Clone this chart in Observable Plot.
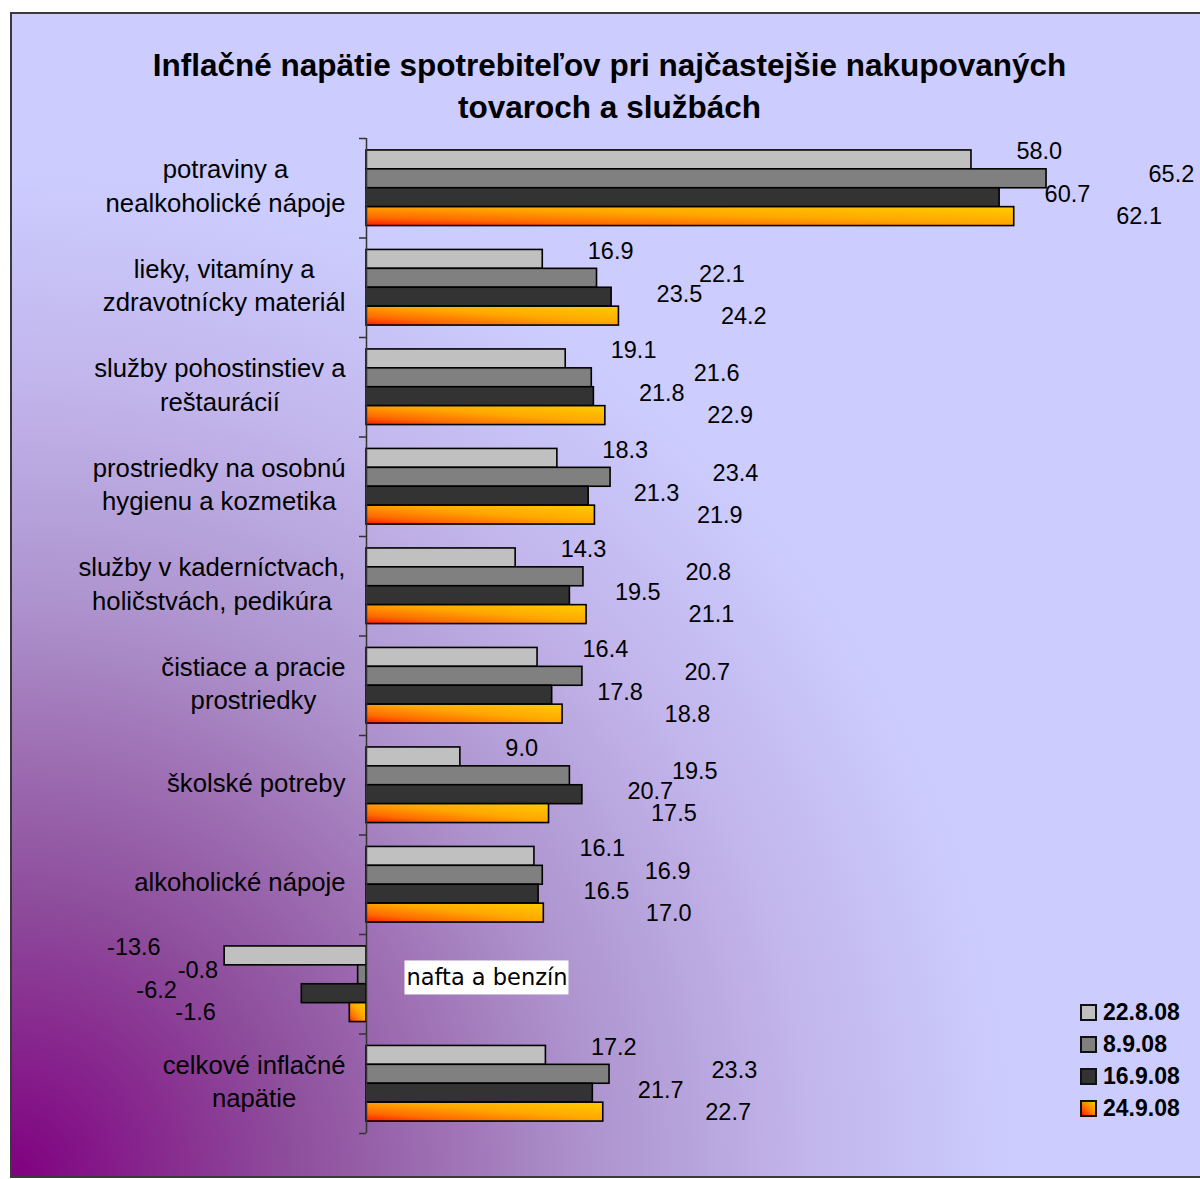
<!DOCTYPE html>
<html><head><meta charset="utf-8">
<script src="https://cdn.jsdelivr.net/npm/d3@7"></script>
<script src="https://cdn.jsdelivr.net/npm/@observablehq/plot@0.6"></script>
<style>
html,body{margin:0;padding:0;background:#fff;overflow:hidden;width:1200px;height:1179px;}
#frame{position:absolute;left:10px;top:12px;width:1200px;height:1162px;border:2px solid #3a3a3a;
  background:radial-gradient(circle 1000px at 0% 100%, #800080 0px, #8e4e9c 280px, #9e70b4 430px, #ae94ce 580px, #c2b6ec 800px, #ccccff 1000px);
  font-family:"Liberation Sans",Arial,sans-serif;}
#title{padding-top:30px;height:84px;line-height:42px;font-size:31.5px;font-weight:bold;text-align:center;width:1195px;color:#000;white-space:nowrap;}
#chart svg{display:block;}
#legend{position:absolute;left:1068px;top:982px;}
.li{display:flex;align-items:center;height:32px;font-weight:bold;font-size:23px;color:#000;}
.sw{width:13px;height:13px;border:2px solid #111;margin-right:6px;}
</style></head>
<body>
<div id="frame">
  <div id="title">Inflačné napätie spotrebiteľov pri najčastejšie nakupovaných<br>tovaroch a službách</div>
  <div id="chart"></div>
  <div id="legend"></div>
</div>
<script>
// ---- data ----
const categories = [
  "potraviny a nealkoholické nápoje",
  "lieky, vitamíny a zdravotnícky materiál",
  "služby pohostinstiev a reštaurácií",
  "prostriedky na osobnú hygienu a kozmetika",
  "služby v kaderníctvach, holičstvách, pedikúra",
  "čistiace a pracie prostriedky",
  "školské potreby",
  "alkoholické nápoje",
  "nafta a benzín",
  "celkové inflačné napätie"
];
const tickLabels = [
  "potraviny a\nnealkoholické nápoje",
  "lieky, vitamíny a\nzdravotnícky materiál",
  "služby pohostinstiev a\nreštaurácií",
  "prostriedky na osobnú\nhygienu a kozmetika",
  "služby v kaderníctvach,\nholičstvách, pedikúra",
  "čistiace a pracie\nprostriedky",
  "školské potreby",
  "alkoholické nápoje",
  "",
  "celkové inflačné\nnapätie"
];
const insideLabel = "nafta a benzín";
const seriesNames = ["22.8.08", "8.9.08", "16.9.08", "24.9.08"];
const v_22_8_08 = [58.0, 16.9, 19.1, 18.3, 14.3, 16.4, 9.0, 16.1, -13.6, 17.2];
const v_8_9_08  = [65.2, 22.1, 21.6, 23.4, 20.8, 20.7, 19.5, 16.9, -0.8, 23.3];
const v_16_9_08 = [60.7, 23.5, 21.8, 21.3, 19.5, 17.8, 20.7, 16.5, -6.2, 21.7];
const v_24_9_08 = [62.1, 24.2, 22.9, 21.9, 21.1, 18.8, 17.5, 17.0, -1.6, 22.7];
const seriesValues = [v_22_8_08, v_8_9_08, v_16_9_08, v_24_9_08];

// ---- styles ----
const fills = ["#c0c0c0", "#808080", "#333333", "url(#orangeGrad)"];
const posDx = [45, 102, 45, 102];
const negDx = [-64, -140, -125, -134];
const labDy = [-8, -4, -3, 0];

const W = 1188, H = 1048, mt = 10, mb = 43, ml = 354, mr = 4.8;
const pIn = 0.24;
const step = (H - mt - mb) / categories.length;
const bw = step * (1 - pIn), h = bw / 4;

const marks = [];
seriesValues.forEach((vals, k) => {
  const data = categories.map((c, i) => ({category: c, value: vals[i], series: seriesNames[k]}));
  marks.push(Plot.barX(data, {y: "category", x1: 0, x2: "value", fill: fills[k], stroke: "#000", strokeWidth: 1.6,
    insetTop: k * h, insetBottom: (3 - k) * h}));
  const cy = -bw / 2 + (k + 0.5) * h + labDy[k];
  marks.push(Plot.text(data.filter(d => d.value >= 0), {x: "value", y: "category", text: d => d.value.toFixed(1),
    textAnchor: "start", dx: posDx[k], dy: cy, fontSize: 23.5, fill: "#000"}));
  marks.push(Plot.text(data.filter(d => d.value < 0), {x: "value", y: "category", text: d => d.value.toFixed(1),
    textAnchor: "end", dx: negDx[k], dy: cy, fontSize: 23.5, fill: "#000"}));
});

// axis line and boundary ticks
marks.push(Plot.ruleX([0], {stroke: "#333", strokeWidth: 1.5}));
marks.push(Plot.axisY({ticks: categories, tickSize: 7, tickFormat: () => "", dy: -step / 2, stroke: "#333", strokeWidth: 1.5}));
marks.push(Plot.axisY({ticks: [categories[categories.length - 1]], tickSize: 7, tickFormat: () => "", dy: step / 2, stroke: "#333", strokeWidth: 1.5}));

// category labels (lines centred within a right-aligned block)
const LFS = 25.7;
const ctx = document.createElement("canvas").getContext("2d");
ctx.font = LFS + "px 'Liberation Sans'";
categories.forEach((c, i) => {
  const lab = tickLabels[i];
  if (!lab) return;
  const w = Math.max(...lab.split("\n").map(s => ctx.measureText(s).width));
  marks.push(Plot.text([c], {x: () => 0, y: d => d, text: () => lab, textAnchor: "middle",
    dx: -(21 + w / 2), dy: -4, fontSize: LFS, lineHeight: 1.3, fill: "#000"}));
});

// inside label for fuel category
marks.push(Plot.text([categories[8]], {x: () => 0, y: d => d, text: () => insideLabel, textAnchor: "start",
  dx: 40, dy: -6, fontSize: 22.5, fontFamily: "DejaVu Sans", fill: "#000"}));

const chart = Plot.plot({
  width: W, height: H,
  marginTop: mt, marginBottom: mb, marginLeft: ml, marginRight: mr,
  style: {background: "transparent", fontFamily: "'Liberation Sans', Arial, sans-serif", overflow: "visible"},
  x: {domain: [0, 79.5], axis: null},
  y: {domain: categories, paddingInner: pIn, paddingOuter: pIn / 2, round: false, label: null},
  marks
});
document.getElementById("chart").appendChild(chart);

// gradient definition for the last series
const ns = "http://www.w3.org/2000/svg";
const defs = document.createElementNS(ns, "defs");
defs.innerHTML = `<linearGradient id="orangeGrad" x1="0" y1="1" x2="1" y2="0">
  <stop offset="0" stop-color="#ff1a00"/><stop offset="0.22" stop-color="#ff6a00"/>
  <stop offset="0.55" stop-color="#ffa800"/><stop offset="1" stop-color="#ffcc00"/></linearGradient>`;
chart.insertBefore(defs, chart.firstChild);

// white box behind inside label
[...chart.querySelectorAll("text")].filter(t => t.textContent === insideLabel).forEach(t => {
  const b = t.getBBox();
  const r = document.createElementNS(ns, "rect");
  r.setAttribute("x", b.x - 2); r.setAttribute("y", b.y - 4);
  r.setAttribute("width", b.width + 3); r.setAttribute("height", b.height + 8);
  r.setAttribute("fill", "#fff");
  if (t.getAttribute("transform")) r.setAttribute("transform", t.getAttribute("transform"));
  t.parentNode.insertBefore(r, t);
});

// legend
const legend = document.getElementById("legend");
const swatchBg = ["#c0c0c0", "#808080", "#333333", "linear-gradient(45deg, #ff1a00, #ff7a00 45%, #ffcc00)"];
seriesNames.forEach((s, k) => {
  const row = document.createElement("div"); row.className = "li";
  const sw = document.createElement("div"); sw.className = "sw"; sw.style.background = swatchBg[k];
  const tx = document.createElement("span"); tx.textContent = s;
  row.appendChild(sw); row.appendChild(tx); legend.appendChild(row);
});
</script>
</body></html>
